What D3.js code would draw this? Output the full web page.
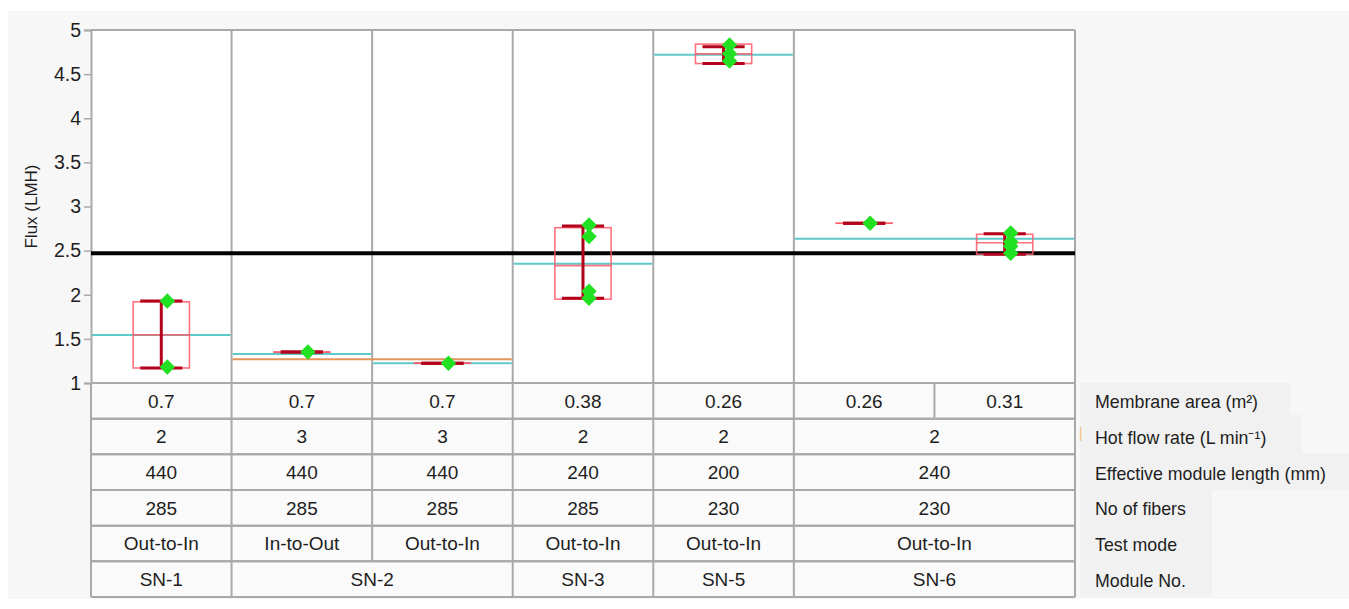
<!DOCTYPE html>
<html><head><meta charset="utf-8">
<script src="https://cdn.jsdelivr.net/npm/d3@7/dist/d3.min.js"></script>
<style>
html,body{margin:0;padding:0;background:#fff;}
text{font-family:"Liberation Sans",Arial,sans-serif;fill:#1e1e1e;}
</style></head>
<body>
<svg id="chart" width="1349" height="609"></svg>
<script>
// ---------- data ----------
const columns = ["SN-1 0.7","SN-2 In","SN-2 Out","SN-3","SN-5","SN-6 0.26","SN-6 0.31"];
const yTicks = [1,1.5,2,2.5,3,3.5,4,4.5,5];
const referenceLine = 2.47;
// box statistics per column
const boxMin    = [1.17, 1.35, 1.225, 1.96, 4.62, 2.81, 2.46];
const boxQ1     = [1.17, 1.35, 1.225, 1.95, 4.62, 2.81, 2.46];
const boxMedian = [1.545,1.35, 1.225, 2.33, 4.73, 2.81, 2.59];
const boxQ3     = [1.92, 1.35, 1.225, 2.76, 4.84, 2.81, 2.685];
const boxMax    = [1.93, 1.35, 1.225, 2.78, 4.81, 2.81, 2.69];
// individual observations per column
const points = [
  [1.93, 1.18],
  [1.35],
  [1.225],
  [2.79, 2.66, 2.04, 1.96],
  [4.83, 4.73, 4.65],
  [2.81],
  [2.70, 2.60, 2.55, 2.47]
];
// panels (column spans) and their means
const panelSpans = [1,1,1,1,1,2];
const panelMeans = [1.545, 1.33, 1.225, 2.35, 4.72, 2.635];
const moduleSpans = [1,2,1,1,2];
const moduleMeans = [null, 1.27, null, null, null];
// table rows
const rowLabels = ["Membrane area (m\u00B2)","Hot flow rate (L min\u207B\u00B9)","Effective module length (mm)","No of fibers","Test mode","Module No."];
const membraneArea = [["0.7",1],["0.7",1],["0.7",1],["0.38",1],["0.26",1],["0.26",1],["0.31",1]];
const hotFlow      = [["2",1],["3",1],["3",1],["2",1],["2",1],["2",2]];
const moduleLength = [["440",1],["440",1],["440",1],["240",1],["200",1],["240",2]];
const fibers       = [["285",1],["285",1],["285",1],["285",1],["230",1],["230",2]];
const testMode     = [["Out-to-In",1],["In-to-Out",1],["Out-to-In",1],["Out-to-In",1],["Out-to-In",1],["Out-to-In",2]];
const moduleNo     = [["SN-1",1],["SN-2",2],["SN-3",1],["SN-5",1],["SN-6",2]];
const tableRows = [membraneArea, hotFlow, moduleLength, fibers, testMode, moduleNo];

// ---------- layout ----------
const svg = d3.select("#chart");
const L = 91, R = 1075, T = 30, B = 383, tableBottom = 597;
const rowH = (tableBottom - B) / tableRows.length;
const gridColor = "#a9a9a9";

const x = d3.scaleBand().domain(columns).range([L, R]).padding(0);
const y = d3.scaleLinear().domain([1,5]).range([B, T]);
const bw = x.bandwidth();
const colEdge = i => L + i * bw;

// backgrounds
svg.append("rect").attr("x",8).attr("y",11).attr("width",1341).attr("height",588).attr("fill","#f7f7f7");
svg.append("rect").attr("x",L).attr("y",T).attr("width",R-L).attr("height",B-T).attr("fill","#fff");
svg.append("rect").attr("x",L).attr("y",B).attr("width",R-L).attr("height",tableBottom-B).attr("fill","#fafafa");

// label background patches
const patches = [[1080,383,210,33],[1080,415,222,38],[1080,453,269,37],[1080,490,132,107]];
patches.forEach(p => svg.append("rect").attr("x",p[0]).attr("y",p[1]).attr("width",p[2]).attr("height",p[3]).attr("fill","#f1f1f1"));
svg.append("line").attr("x1",1080.5).attr("x2",1080.5).attr("y1",427).attr("y2",441).attr("stroke","#f0c890").attr("stroke-width",1.5);

// y axis
const yAxis = d3.axisLeft(y).tickValues(yTicks).tickFormat(d3.format("")).tickSize(7).tickPadding(3);
const ag = svg.append("g").attr("transform",`translate(${L},0)`).call(yAxis);
ag.select(".domain").attr("stroke",gridColor).attr("stroke-width",2);
ag.selectAll(".tick line").attr("stroke",gridColor).attr("stroke-width",1.5);
ag.selectAll(".tick text").attr("font-size",19.5).attr("fill","#1e1e1e").attr("font-family","Liberation Sans, Arial, sans-serif");

svg.append("text").attr("transform",`translate(37,${(T+B)/2}) rotate(-90)`).attr("text-anchor","middle")
  .attr("font-size",17).text("Flux (LMH)");

// plot top and right borders
svg.append("line").attr("x1",L).attr("x2",R).attr("y1",T).attr("y2",T).attr("stroke",gridColor).attr("stroke-width",2);
svg.append("line").attr("x1",R).attr("x2",R).attr("y1",T).attr("y2",tableBottom).attr("stroke",gridColor).attr("stroke-width",2);

// panel separators in plot
let acc = 0;
panelSpans.forEach((s,i) => {
  if (i > 0) svg.append("line").attr("x1",colEdge(acc)).attr("x2",colEdge(acc)).attr("y1",T).attr("y2",B).attr("stroke",gridColor).attr("stroke-width",2);
  acc += s;
});

// table grid & text
svg.append("line").attr("x1",L).attr("x2",L).attr("y1",B).attr("y2",tableBottom).attr("stroke",gridColor).attr("stroke-width",2);
tableRows.forEach((row, r) => {
  const y0 = B + r * rowH;
  svg.append("line").attr("x1",L).attr("x2",R).attr("y1",y0+rowH).attr("y2",y0+rowH).attr("stroke",gridColor).attr("stroke-width",2);
  svg.append("line").attr("x1",L).attr("x2",R).attr("y1",y0).attr("y2",y0).attr("stroke",gridColor).attr("stroke-width",2);
  let c = 0;
  row.forEach(([txt, span], k) => {
    const x0 = colEdge(c), x1 = colEdge(c + span);
    if (k > 0) svg.append("line").attr("x1",x0).attr("x2",x0).attr("y1",y0).attr("y2",y0+rowH).attr("stroke",gridColor).attr("stroke-width",2);
    svg.append("text").attr("x",(x0+x1)/2).attr("y",y0+rowH/2).attr("dy","0.36em").attr("text-anchor","middle")
      .attr("font-size",19).text(txt);
    c += span;
  });
  svg.append("text").attr("x",1095).attr("y",y0+rowH/2+1).attr("dy","0.36em").attr("font-size",17.8).text(rowLabels[r]);
});

// reference line
svg.append("line").attr("x1",L).attr("x2",R).attr("y1",y(referenceLine)).attr("y2",y(referenceLine)).attr("stroke","#000").attr("stroke-width",4);

// panel mean lines (cyan)
acc = 0;
panelSpans.forEach((s,i) => {
  svg.append("line").attr("x1",colEdge(acc)+1).attr("x2",colEdge(acc+s)-1).attr("y1",y(panelMeans[i])).attr("y2",y(panelMeans[i]))
    .attr("stroke","#5ec9c9").attr("stroke-width",2);
  acc += s;
});
// module mean lines (orange)
acc = 0;
moduleSpans.forEach((s,i) => {
  if (moduleMeans[i] != null)
    svg.append("line").attr("x1",colEdge(acc)+1).attr("x2",colEdge(acc+s)-1).attr("y1",y(moduleMeans[i])).attr("y2",y(moduleMeans[i]))
      .attr("stroke","#e3955a").attr("stroke-width",2);
  acc += s;
});

// box plots
const boxW = bw * 0.40, capW = bw * 0.30;
columns.forEach((col, i) => {
  const cx = x(col) + bw/2;
  const g = svg.append("g");
  g.append("rect").attr("x",cx-boxW/2).attr("y",y(boxQ3[i])).attr("width",boxW).attr("height",Math.max(0.01,y(boxQ1[i])-y(boxQ3[i])))
    .attr("fill","none").attr("stroke","#ff5a6a").attr("stroke-width",1.6).attr("stroke-opacity",0.85);
  g.append("line").attr("x1",cx-boxW/2).attr("x2",cx+boxW/2).attr("y1",y(boxMedian[i])).attr("y2",y(boxMedian[i]))
    .attr("stroke","#ff5a6a").attr("stroke-width",1.6).attr("stroke-opacity",0.85);
  g.append("line").attr("x1",cx).attr("x2",cx).attr("y1",y(boxMin[i])).attr("y2",y(boxMax[i]))
    .attr("stroke","#b3001b").attr("stroke-width",3);
  [boxMin[i], boxMax[i]].forEach(v => g.append("line").attr("x1",cx-capW/2).attr("x2",cx+capW/2).attr("y1",y(v)).attr("y2",y(v))
    .attr("stroke","#b3001b").attr("stroke-width",3));
  const sym = d3.symbol(d3.symbolSquare, 120);
  points[i].forEach(v => g.append("path").attr("d",sym())
    .attr("transform",`translate(${cx+6},${y(v)}) rotate(45)`).attr("fill","#22e022"));
});
</script>
</body></html>
